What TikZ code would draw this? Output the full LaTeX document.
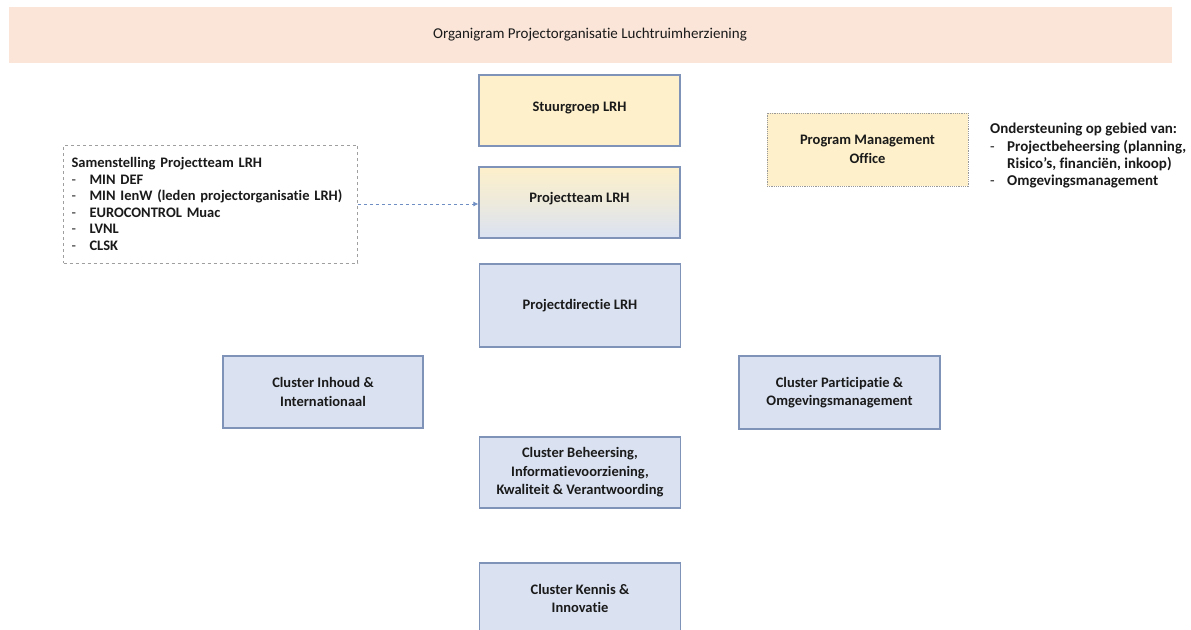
\documentclass[tikz,border=0pt]{standalone}
\usepackage{fontspec}
\setmainfont[Ligatures={NoCommon}]{Carlito}
\usetikzlibrary{arrows.meta}
\definecolor{banner}{HTML}{FAE5D8}
\definecolor{yel}{HTML}{FDF0CA}
\definecolor{blu}{HTML}{DAE2F2}
\definecolor{edge}{HTML}{7F93B8}
\definecolor{txt}{HTML}{1A1A1A}
\definecolor{arr}{HTML}{6F8FC4}
\tikzset{
  box/.style={draw=edge, line width=1.2pt, fill=blu, minimum width=201pt, minimum height=71pt,
    align=center, font=\fontsize{14.5}{18.5}\selectfont\bfseries, text=txt, inner sep=2pt},
  yelbox/.style={box, fill=yel},
  listtxt/.style={align=left, font=\fontsize{14.5}{16.5}\selectfont, text=txt, inner sep=0pt}
}
\newcommand{\dsh}[1]{\makebox[#1][l]{\mdseries -}}
\begin{document}
\begin{tikzpicture}[x=1pt,y=-1pt]
\useasboundingbox (0,0) rectangle (1191,629);
\clip (0,0) rectangle (1191,629);
\fill[white] (0,0) rectangle (1191,629);
\node[fill=banner, minimum width=1163pt, minimum height=56pt, inner sep=0pt,
  font=\fontsize{15}{18}\selectfont, text=txt] (title) at (590,35) {Organigram Projectorganisatie Luchtruimherziening};
\node[yelbox] (sg) at (579.5,110.5) {\raisebox{7pt}{Stuurgroep LRH}};
\node[box, top color=yel, bottom color=blu, middle color=yel!55!blu] (pt) at (579.5,202.5) {\raisebox{11pt}{Projectteam LRH}};
\node[box, minimum height=83pt] (pd) at (580,305.5) {Projectdirectie LRH};
\node[box] (cb) at (580,472.5) {Cluster Beheersing,\\Informatievoorziening,\\Kwaliteit \& Verantwoording};
\node[box] (ck) at (580,598.5) {Cluster Kennis \&\\Innovatie};
\node[box, minimum width=200pt, minimum height=72pt] (ci) at (323,392) {Cluster Inhoud \&\\Internationaal};
\node[box, minimum height=73pt] (cp) at (839.5,392.5) {Cluster Participatie \&\\Omgevingsmanagement};
\node[yelbox, draw=gray!80, densely dotted, line width=1pt, minimum height=73pt] (pmo) at (867.5,149.5) {Program Management\\Office};
\node[draw=gray!75, dashed, line width=0.8pt, minimum width=294pt, minimum height=118pt,
  listtxt, text width=278pt, inner sep=0pt] (sam) at (210.5,204)
  {\textbf{Samenstelling Projectteam LRH}\\
   \dsh{18pt}\textbf{MIN DEF}\\
   \dsh{18pt}\textbf{MIN IenW (leden projectorganisatie LRH)}\\
   \dsh{18pt}\textbf{EUROCONTROL Muac}\\
   \dsh{18pt}\textbf{LVNL}\\
   \dsh{18pt}\textbf{CLSK}};
\node[listtxt, anchor=north west, font=\fontsize{15}{17.3}\selectfont] (ond) at (990,123)
  {\textbf{Ondersteuning op gebied van:}\\
   \dsh{17pt}\textbf{Projectbeheersing (planning,}\\
   \hspace*{17pt}\textbf{Risico’s, financiën, inkoop)}\\
   \dsh{17pt}\textbf{Omgevingsmanagement}};
\draw[arr, dashed, line width=0.8pt, -{Latex[length=5pt,width=5pt]}] (sam.east) -- (sam.east -| pt.west);
\end{tikzpicture}
\end{document}
